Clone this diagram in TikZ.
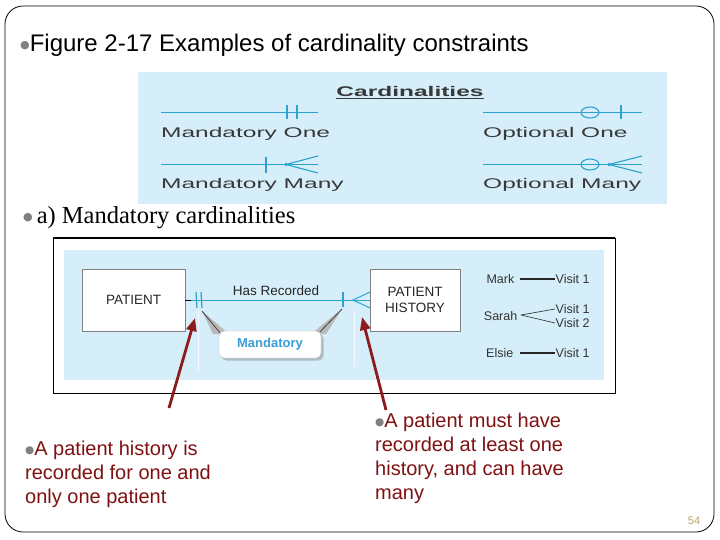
\documentclass[tikz,border=0pt]{standalone}
\usepackage{fontspec}
\setmainfont{Liberation Sans}
\newfontfamily\serifface{Liberation Serif}
\newfontfamily\djv{DejaVu Sans}
\usepackage{graphicx}
\usetikzlibrary{shadows,arrows.meta}
\definecolor{panelblue}{HTML}{D5EEFA}
\definecolor{cyanline}{HTML}{2AA3CF}
\definecolor{mandblue}{HTML}{3A9ED6}
\definecolor{darkred}{HTML}{7F1111}
\definecolor{arrowred}{HTML}{8E1B1B}
\definecolor{bulgray}{HTML}{808080}
\definecolor{pagenum}{HTML}{B8A56E}
\definecolor{cardtext}{HTML}{383838}
\newcommand\bul[2]{{\djv\color{bulgray}\raisebox{#2}{\fontsize{#1}{#1}\selectfont ●}}}
\newcommand\stretchtxt[1]{\scalebox{1.75}[1]{#1}}
\tikzset{
  cardsym/.style={cyanline, line width=1.1pt},
  cardlbl/.style={anchor=west, inner sep=0pt, text=cardtext, font=\fontsize{14}{16}\selectfont},
  entbox/.style={draw=black!50, fill=white, line width=0.7pt, align=center, font=\fontsize{13.5}{16}\selectfont, text=black!85},
  rel/.style={cyanline, line width=1pt},
  visit/.style={inner sep=0.5pt, font=\fontsize{12.5}{13}\selectfont, text=black!80},
  vline/.style={black!85, line width=1.2pt},
  redarrow/.style={arrowred, line width=2.8pt, -{Triangle[length=13pt,width=10pt]}},
  note/.style={anchor=north west, inner sep=0pt, align=left, text=darkred, font=\fontsize{20}{24}\selectfont}
}
\begin{document}
\begin{tikzpicture}[x=1pt,y=-1pt]
\useasboundingbox (0,0) rectangle (720,540);
\fill[white] (0,0) rectangle (720,540);
% outer slide frame
\draw[black, line width=0.8pt, rounded corners=18pt] (5,6) rectangle (714,532);
% title
\node[anchor=base west, inner sep=0pt, font=\fontsize{24}{28}\selectfont] (title) at (20,52)
  {\bul{11}{3.5pt}Figure 2-17 Examples of cardinality constraints};
% cardinalities panel
\fill[panelblue] (138,72) rectangle (667,204);
\node[inner sep=0pt, text=cardtext, font=\bfseries\fontsize{14}{16}\selectfont] (cardt) at (410,92.5) {\stretchtxt{\underline{Cardinalities}}};
% mandatory one
\draw[cardsym] (161,112.5) -- (318,112.5);
\draw[cardsym] (287,105.5) -- (287,119.5);
\draw[cardsym] (297,105.5) -- (297,119.5);
\node[cardlbl] (mo) at (161,133.5) {\stretchtxt{Mandatory One}};
% optional one
\draw[cardsym] (483,112.5) -- (642,112.5);
\draw[cardsym] (590,112.5) ellipse [x radius=9, y radius=5.5];
\draw[cardsym] (621,105.5) -- (621,119.5);
\node[cardlbl] (oo) at (483,133.5) {\stretchtxt{Optional One}};
% mandatory many
\draw[cardsym] (161,164.5) -- (318,164.5);
\draw[cardsym] (266,157) -- (266,173);
\draw[cardsym] (318,156) -- (286,164.5) -- (318,173);
\fill[cyanline] (286,164.5) circle (1.8);
\node[cardlbl] (mm) at (161,184.5) {\stretchtxt{Mandatory Many}};
% optional many
\draw[cardsym] (483,164.5) -- (642,164.5);
\draw[cardsym] (590,164.5) ellipse [x radius=9, y radius=5.5];
\draw[cardsym] (642,156) -- (609,164.5) -- (642,173);
\fill[cyanline] (609,164.5) circle (1.8);
\node[cardlbl] (om) at (483,184.5) {\stretchtxt{Optional Many}};
% subtitle
\node[anchor=base west, inner sep=0pt, font=\serifface\fontsize{24.5}{28}\selectfont] (sub) at (23,224)
  {\bul{11}{3.5pt}\hspace{4pt}a) Mandatory cardinalities};
% main diagram frame and panel
\draw[black, line width=0.9pt] (53,238) rectangle (615,393);
\draw[black, line width=1.8pt] (53,238) -- (615,238);
\fill[panelblue] (64,250) rectangle (604,380);
\draw[white, opacity=0.8, line width=0.6pt] (198,310) -- (198,372);
\draw[white, opacity=0.8, line width=0.6pt] (354,310) -- (354,367);
% entities
\node[entbox, minimum width=103pt, minimum height=62pt] (pat) at (133.5,300) {PATIENT};
\node[entbox, minimum width=90pt, minimum height=62pt] (ph) at (415,300) {PATIENT\\HISTORY};
% relationship
\draw[black, line width=1pt] (pat.east) -- ++(6,0) coordinate (rs);
\draw[rel] (rs) -- (ph.west);
\draw[rel, line width=1.2pt] (196,292) -- (197,308);
\draw[rel, line width=1.2pt] (201,292) -- (202,308);
\draw[rel, line width=1.2pt] (343,292) -- (343,307);
\draw[rel] (370,292) -- (353,300) -- (370,308);
\node[inner sep=0pt, font=\fontsize{13.5}{16}\selectfont, text=black!85] (hr) at (276,291) {Has Recorded};
% callout
\fill[gray!55] (202,311) -- (213,334) -- (229,334) -- cycle;
\draw[black!75, line width=0.8pt] (202,311) -- (221,334);
\fill[gray!55] (342,309) -- (311,334) -- (326,334) -- cycle;
\draw[black!75, line width=0.8pt] (342,309) -- (318,334);
\node[fill=white, draw=black!25, rounded corners=5pt, minimum width=102pt, minimum height=27pt,
  drop shadow={shadow xshift=2.5pt, shadow yshift=-2.5pt, opacity=0.45},
  font=\bfseries\fontsize{13}{15}\selectfont, text=mandblue] (mand) at (270,344.5) {Mandatory};
% instances
\node[visit, anchor=east] (mark) at (515,279) {Mark};
\node[visit, anchor=west] (mv1) at (555,279) {Visit 1};
\draw[vline] (mark.east) ++(5,0) -- (mv1.west);
\node[visit, anchor=east] (sarah) at (518,316) {Sarah};
\node[visit, anchor=west] (sv1) at (555,309) {Visit 1};
\node[visit, anchor=west] (sv2) at (555,323) {Visit 2};
\draw[black!75, line width=0.7pt] (sarah.east) ++(3,-1) -- (sv1.west);
\draw[black!75, line width=0.7pt] (sarah.east) ++(3,-1) -- (sv2.west);
\node[visit, anchor=east] (elsie) at (514,353) {Elsie};
\node[visit, anchor=west] (ev1) at (555,353) {Visit 1};
\draw[vline] (elsie.east) ++(6,0) -- (ev1.west);
% red arrows
\coordinate (a1s) at (169,408);
\coordinate (a1e) at (195,318);
\coordinate (a2s) at (386,410);
\coordinate (a2e) at (362,317);
\draw[redarrow] (a1s) -- (a1e);
\draw[redarrow] (a2s) -- (a2e);
% notes
\node[note] (ln) at (25,441) {\bul{10.5}{2.5pt}A patient history is\\recorded for one and\\only one patient};
\node[note] (rn) at (375,413) {\bul{10.5}{2.5pt}A patient must have\\recorded at least one\\history, and can have\\many};
% page number
\node[inner sep=0pt, font=\fontsize{11}{12}\selectfont, text=pagenum] (pg) at (694,521) {54};
\end{tikzpicture}
\end{document}
